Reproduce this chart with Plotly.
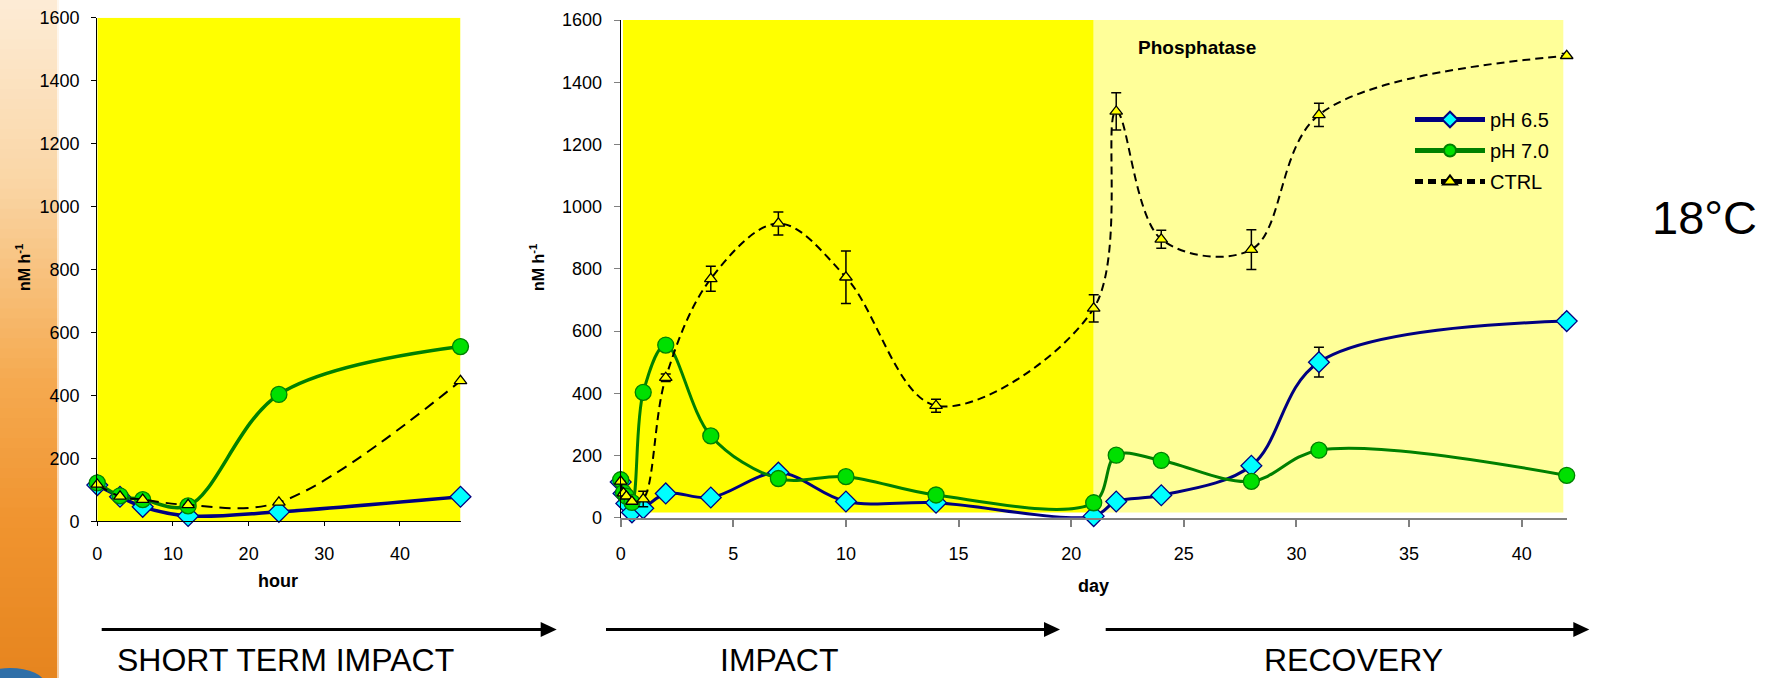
import plotly.graph_objects as go

# ---------------- data ----------------
hours = [0, 3, 6, 12, 24, 48]
h_ph65 = [115, 78, 46, 17, 30, 78]
h_ph70 = [122, 81, 69, 49, 403, 555]
h_ctrl = [117, 79, 69, 52, 60, 446]

days = [0, 0.125, 0.25, 0.5, 1, 2, 4, 7, 10, 14, 21, 22, 24, 28, 31, 42]
d_ph65 = [115, 78, 46, 17, 30, 78, 65, 145, 52, 48, 5, 52, 72, 167, 500, 632]
d_ph65_err = [0, 0, 0, 0, 0, 0, 0, 0, 0, 0, 0, 0, 0, 0, 48, 20]
d_ph70 = [122, 81, 69, 49, 403, 555, 263, 126, 132, 73, 48, 201, 184, 117, 217, 136]
d_ctrl = [117, 79, 69, 52, 60, 450, 768, 946, 773, 360, 673, 1306, 895, 862, 1295, 1485]
d_ctrl_err = [0, 0, 0, 0, 25, 12, 40, 37, 84, 21, 44, 60, 29, 64, 37, 7]

series_names = ["pH 6.5", "pH 7.0", "CTRL"]
y_ticks = [0, 200, 400, 600, 800, 1000, 1200, 1400, 1600]
hour_ticks = [0, 10, 20, 30, 40]
day_ticks = [0, 5, 10, 15, 20, 25, 30, 35, 40]
impact_end_day = 21
phase_labels = ["SHORT TERM IMPACT", "IMPACT", "RECOVERY"]

# ---------------- layout helpers ----------------
W, H = 1774, 678
def px(x):
    return x / W
def py(y):
    return 1 - y / H

FONT = "Liberation Sans, Arial, sans-serif"
NAVY = "#000080"
CYAN = "#00FFFF"
GREEN_LINE = "#008000"
GREEN_FILL = "#00E000"
YELLOW = "#FFFF00"
LIGHT_YELLOW = "#FFFF99"

fig = go.Figure()

def add_series(xs, ys65, ys70, ysc, xa, ya, legend, err65=None, errc=None, lw=3, dash="8px,5px"):
    fig.add_trace(go.Scatter(
        x=xs, y=ys65, mode="lines+markers", name=series_names[0],
        xaxis=xa, yaxis=ya, showlegend=legend, legendgroup="a", cliponaxis=False,
        line=dict(color=NAVY, width=lw, shape="spline", smoothing=1),
        marker=dict(symbol="diamond", size=16, color=CYAN, line=dict(color=NAVY, width=1.3)),
        error_y=dict(type="data", array=err65, visible=err65 is not None,
                     color="black", thickness=1.5, width=5),
    ))
    fig.add_trace(go.Scatter(
        x=xs, y=ys70, mode="lines+markers", name=series_names[1],
        xaxis=xa, yaxis=ya, showlegend=legend, legendgroup="b", cliponaxis=False,
        line=dict(color=GREEN_LINE, width=lw, shape="spline", smoothing=1),
        marker=dict(symbol="circle", size=16, color=GREEN_FILL, line=dict(color=GREEN_LINE, width=1.3)),
    ))
    fig.add_trace(go.Scatter(
        x=xs, y=ysc, mode="lines+markers", name=series_names[2],
        xaxis=xa, yaxis=ya, showlegend=legend, legendgroup="c", cliponaxis=False,
        line=dict(color="black", width=2, dash=dash, shape="spline", smoothing=1),
        marker=dict(symbol="triangle-up", size=11, color=YELLOW, line=dict(color="black", width=1.3)),
        error_y=dict(type="data", array=errc, visible=errc is not None,
                     color="black", thickness=1.5, width=5),
    ))

add_series(hours, h_ph65, h_ph70, h_ctrl, "x", "y", False, lw=3.5, dash="11px,7px")
add_series(days, d_ph65, d_ph70, d_ctrl, "x2", "y2", True, err65=d_ph65_err, errc=d_ctrl_err)

shapes = []
# orange decorative strip on the left
stops = [(0, (253, 236, 214)), (180, (250, 214, 166)), (380, (245, 170, 80)),
         (520, (240, 148, 48)), (678, (230, 132, 30))]
n = 68
for i in range(n):
    y0 = i * H / n
    y1 = (i + 1) * H / n
    ym = (y0 + y1) / 2
    for k in range(len(stops) - 1):
        if stops[k][0] <= ym <= stops[k + 1][0]:
            t = (ym - stops[k][0]) / (stops[k + 1][0] - stops[k][0])
            c = [round(stops[k][1][j] + t * (stops[k + 1][1][j] - stops[k][1][j])) for j in range(3)]
            break
    shapes.append(dict(type="rect", xref="paper", yref="paper", x0=0, x1=px(59),
                       y0=py(y1) - 0.001, y1=py(y0) + 0.001, line=dict(width=0),
                       fillcolor=f"rgb({c[0]},{c[1]},{c[2]})", layer="below"))
shapes.append(dict(type="rect", xref="paper", yref="paper", x0=px(57), x1=px(63), y0=0, y1=1,
                   line=dict(width=0), fillcolor="rgba(255,255,255,0.6)", layer="below"))
shapes.append(dict(type="circle", xref="paper", yref="paper", x0=px(-25), x1=px(45), y0=py(700), y1=py(668),
                   line=dict(width=0), fillcolor="#2F6FA8", layer="below"))

# yellow backgrounds
shapes.append(dict(type="rect", xref="x", yref="y", x0=0, x1=48, y0=0, y1=1600,
                   line=dict(width=0), fillcolor=YELLOW, layer="below"))
shapes.append(dict(type="rect", xref="x2", yref="y2", x0=0.1, x1=impact_end_day, y0=17, y1=1600,
                   line=dict(width=0), fillcolor=YELLOW, layer="below"))
shapes.append(dict(type="rect", xref="x2", yref="y2", x0=impact_end_day, x1=41.85, y0=17, y1=1600,
                   line=dict(width=0), fillcolor=LIGHT_YELLOW, layer="below"))

# phase arrows
arrows = [(101.7, 556.7), (606, 1060), (1105.7, 1589.3)]
ay = 629.5
for xs, xe in arrows:
    shapes.append(dict(type="line", xref="paper", yref="paper", x0=px(xs), x1=px(xe - 12),
                       y0=py(ay), y1=py(ay), line=dict(color="black", width=2.8)))
    shapes.append(dict(type="path", xref="paper", yref="paper",
                       path=f"M {px(xe - 16)},{py(ay - 7.5)} L {px(xe)},{py(ay)} L {px(xe - 16)},{py(ay + 7.5)} Z",
                       line=dict(width=0), fillcolor="black"))

annotations = []
def ann(text, x, y, size, bold=False, xanchor="center", yanchor="middle", angle=0):
    annotations.append(dict(text=(f"<b>{text}</b>" if bold else text), x=px(x), y=py(y),
                            xref="paper", yref="paper", showarrow=False, xanchor=xanchor, yanchor=yanchor,
                            textangle=angle, font=dict(family=FONT, size=size, color="black")))

ann(phase_labels[0], 115, 660, 32, xanchor="left")
ann(phase_labels[1], 779, 660, 32)
ann(phase_labels[2], 1353.5, 660, 32)
ann("hour", 278, 581, 18, bold=True)
ann("day", 1093, 586, 18, bold=True)
ann("nM h<sup>-1</sup>", 23, 268, 16, bold=True, angle=-90)
ann("nM h<sup>-1</sup>", 537, 268, 16, bold=True, angle=-90)
ann("Phosphatase", 1136, 47, 19, bold=True, xanchor="left")
ann("18°C", 1704, 217, 47)

axis_common = dict(showgrid=False, zeroline=False, showline=True, ticks="outside",
                   tickfont=dict(family=FONT, size=18, color="black"), mirror=False)

fig.update_layout(
    width=W, height=H, autosize=False,
    margin=dict(l=0, r=0, t=0, b=0, pad=0, autoexpand=False),
    paper_bgcolor="white", plot_bgcolor="rgba(0,0,0,0)",
    shapes=shapes, annotations=annotations,
    xaxis=dict(domain=[px(97.3), px(460.5)], range=[0, 48], tickvals=hour_ticks,
               linecolor="black", linewidth=1.3, tickcolor="black", ticklen=4, anchor="y",
               ticklabelstandoff=12, **axis_common),
    yaxis=dict(domain=[py(521.3), py(17.7)], range=[0, 1600], tickvals=y_ticks,
               linecolor="black", linewidth=1.3, tickcolor="black", ticklen=5, anchor="x",
               ticklabelstandoff=8, **axis_common),
    xaxis2=dict(domain=[px(620.7), px(1566.7)], range=[0, 42], tickvals=day_ticks,
                linecolor="#808080", linewidth=2, tickcolor="#808080", ticklen=7, tickwidth=1.5, anchor="y2",
                ticklabelstandoff=12, **axis_common),
    yaxis2=dict(domain=[py(517.7), py(20)], range=[0, 1600], tickvals=y_ticks,
                linecolor="black", linewidth=1.3, tickcolor="#808080", ticklen=6, anchor="x2",
                ticklabelstandoff=8, **axis_common),
    legend=dict(x=px(1410), y=py(100), xanchor="left", yanchor="top",
                bgcolor="rgba(0,0,0,0)", itemwidth=70, tracegroupgap=2, itemsizing="constant",
                font=dict(family=FONT, size=20, color="black")),
)

fig.write_html("out.html", config={"displayModeBar": False},
               post_script="document.body.style.margin='0px';document.body.style.overflow='hidden';")
